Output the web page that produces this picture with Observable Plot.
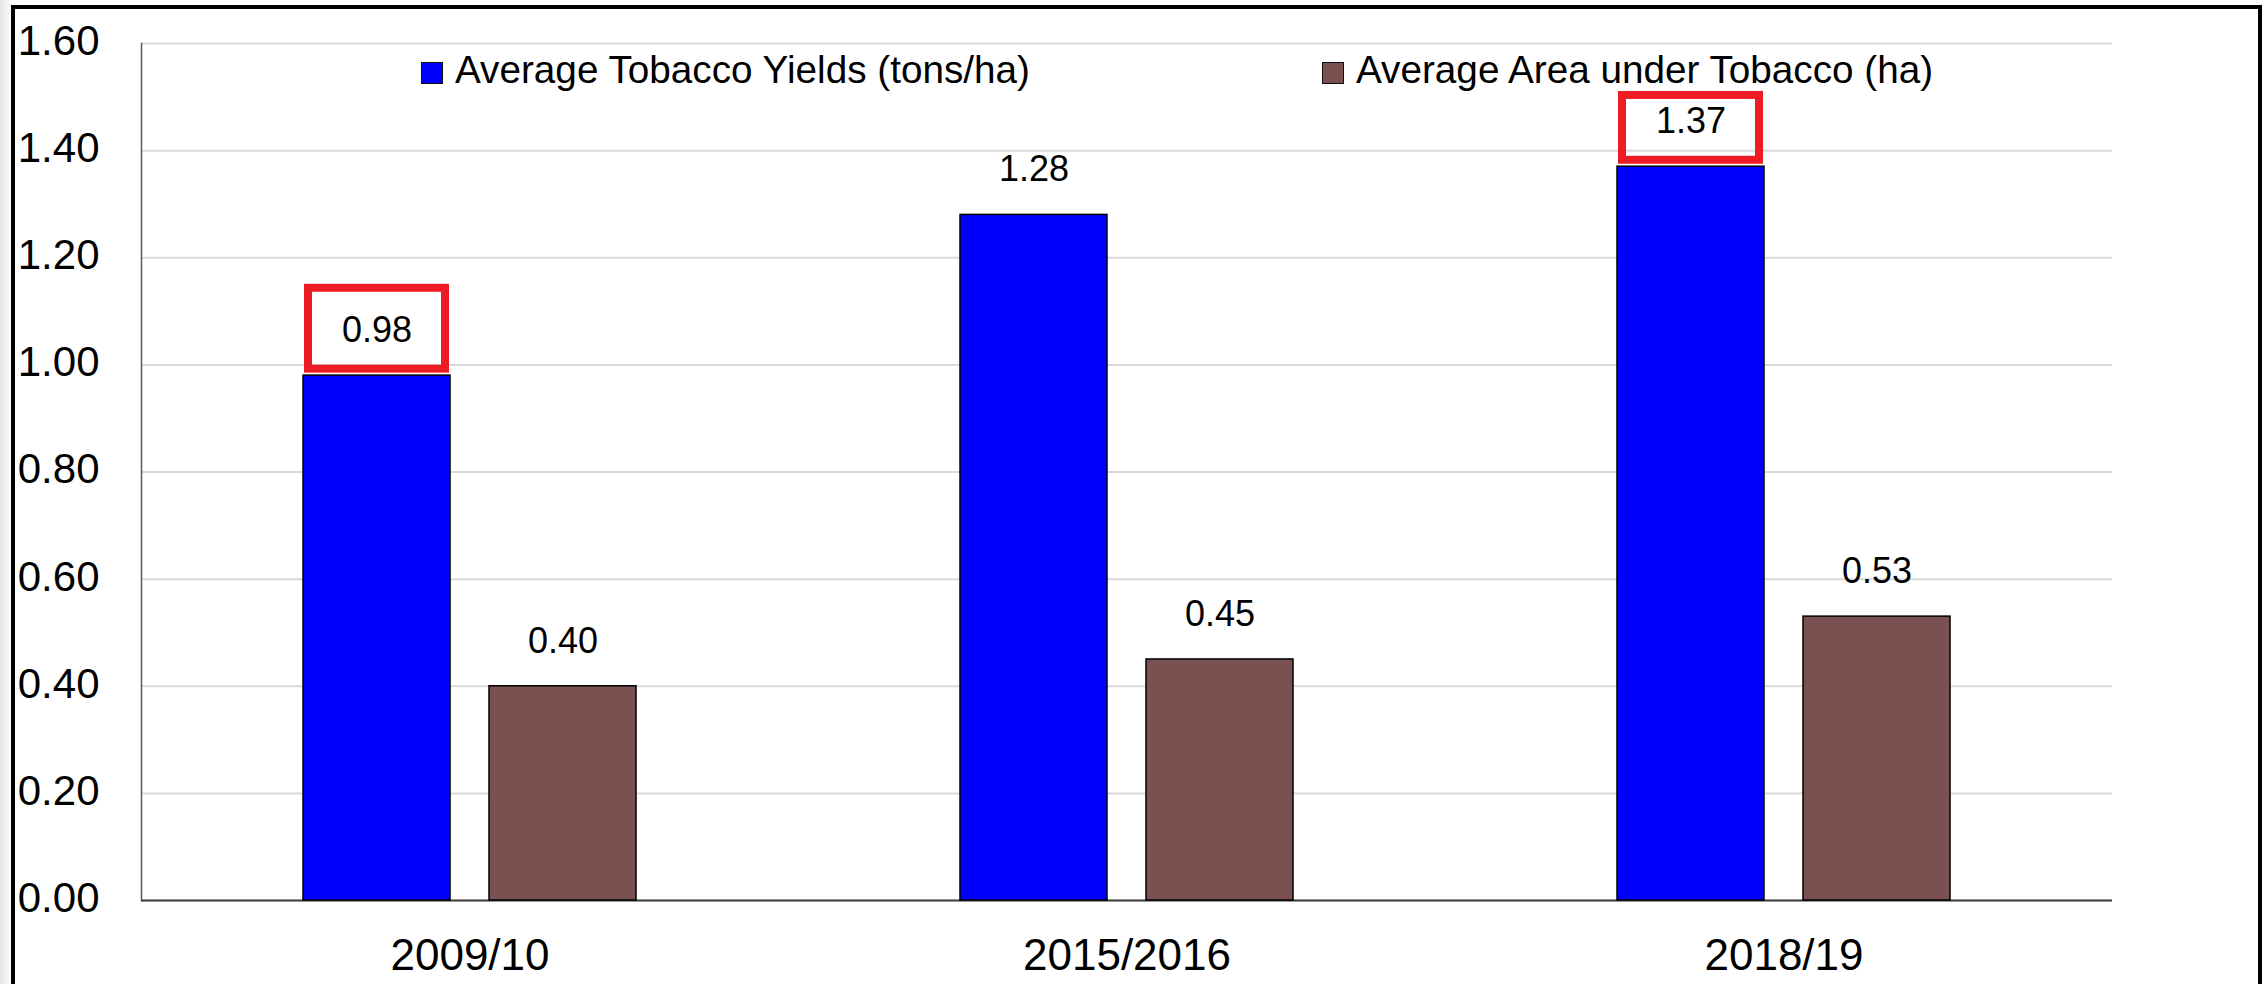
<!DOCTYPE html>
<html>
<head>
<meta charset="utf-8">
<script src="https://cdn.jsdelivr.net/npm/d3@7"></script>
<script src="https://cdn.jsdelivr.net/npm/@observablehq/plot@0.6"></script>
<style>
  html, body { margin: 0; padding: 0; }
  body { width: 2267px; height: 984px; overflow: hidden; background: linear-gradient(90deg, #e4e4e4 0px, #ffffff 12px); }
  #wrap { position: relative; width: 2267px; height: 984px; }
  #chart { position: absolute; left: 0; top: 0; }
  #border { position: absolute; left: 11px; top: 5px; width: 2243px; height: 1200px; border: 4px solid #000; border-bottom: none; background: #fff; }
  .legend-item { position: absolute; top: 51px; height: 38px; white-space: nowrap; font-family: "Liberation Sans", Arial, sans-serif; font-size: 38.7px; line-height: 38px; color: #000; }
  .sw { position: absolute; top: 11px; left: 0; width: 20px; height: 20px; border: 1.5px solid #111; }
  .lt { position: absolute; left: 34px; top: 0; }
</style>
</head>
<body>
<div id="wrap">
  <div id="border"></div>
  <div id="chart"></div>
  <div id="legend"></div>
</div>
<script>
const years = ["2009/10", "2015/2016", "2018/19"];
const seriesNames = ["Average Tobacco Yields (tons/ha)", "Average Area under Tobacco (ha)"];
const yields = [0.98, 1.28, 1.37];
const areas = [0.40, 0.45, 0.53];
const yTicks = [0, 0.2, 0.4, 0.6, 0.8, 1.0, 1.2, 1.4, 1.6];
const colors = ["#0000FF", "#7A5050"];
const highlightYears = ["2009/10", "2018/19"];
const highlightLow = [0.992, 1.382];
const highlightHigh = [1.143, 1.503];

const rows = years.flatMap((yr, i) => [
  {year: yr, series: seriesNames[0], value: yields[i]},
  {year: yr, series: seriesNames[1], value: areas[i]}
]);
const boxes = highlightYears.map((yr, i) => ({year: yr, series: seriesNames[0], y1: highlightLow[i], y2: highlightHigh[i]}));

const chart = Plot.plot({
  width: 2267,
  height: 984,
  marginLeft: 140,
  marginRight: 155,
  marginTop: 43,
  marginBottom: 84,
  style: {fontFamily: "'Liberation Sans', Arial, sans-serif", background: "transparent", color: "#000"},
  fx: {domain: years, paddingInner: 0, paddingOuter: 0},
  x: {domain: seriesNames, paddingInner: 0.2086, paddingOuter: 0.862, axis: null},
  y: {domain: [0, 1.6]},
  color: {domain: seriesNames, range: colors},
  marks: [
    Plot.gridY(yTicks, {stroke: "#d9d9d9", strokeOpacity: 1, strokeWidth: 2}),
    Plot.frame({anchor: "left", facetAnchor: "left", stroke: "#595959", strokeWidth: 1.5}),
    Plot.ruleY([0], {stroke: "#404040", strokeWidth: 2}),
    Plot.barY(rows, {fx: "year", x: "series", y: "value", fill: "series", stroke: "#000", strokeWidth: 1.5}),
    Plot.text(rows, {fx: "year", x: "series", y: "value", text: d => d.value.toFixed(2), dy: -45, fontSize: 36, fill: "#000"}),
    Plot.barY(boxes, {fx: "year", x: "series", y1: "y1", y2: "y2", fill: "none", stroke: "#ED1C24", strokeWidth: 8, insetLeft: 5, insetRight: 5}),
    Plot.axisY(yTicks, {tickSize: 0, tickPadding: 42, tickFormat: d => d.toFixed(2), fontSize: 42, label: null, dy: -2}),
    Plot.axisFx({anchor: "bottom", tickSize: 0, tickPadding: 38, fontSize: 44, label: null})
  ]
});
document.getElementById("chart").appendChild(chart);

const legendLeft = [421, 1322];
const legend = document.getElementById("legend");
seriesNames.forEach((name, i) => {
  const item = document.createElement("div");
  item.className = "legend-item";
  item.style.left = legendLeft[i] + "px";
  const sw = document.createElement("div");
  sw.className = "sw";
  sw.style.background = colors[i];
  const t = document.createElement("span");
  t.className = "lt";
  t.textContent = name;
  item.appendChild(sw);
  item.appendChild(t);
  legend.appendChild(item);
});
</script>
</body>
</html>
